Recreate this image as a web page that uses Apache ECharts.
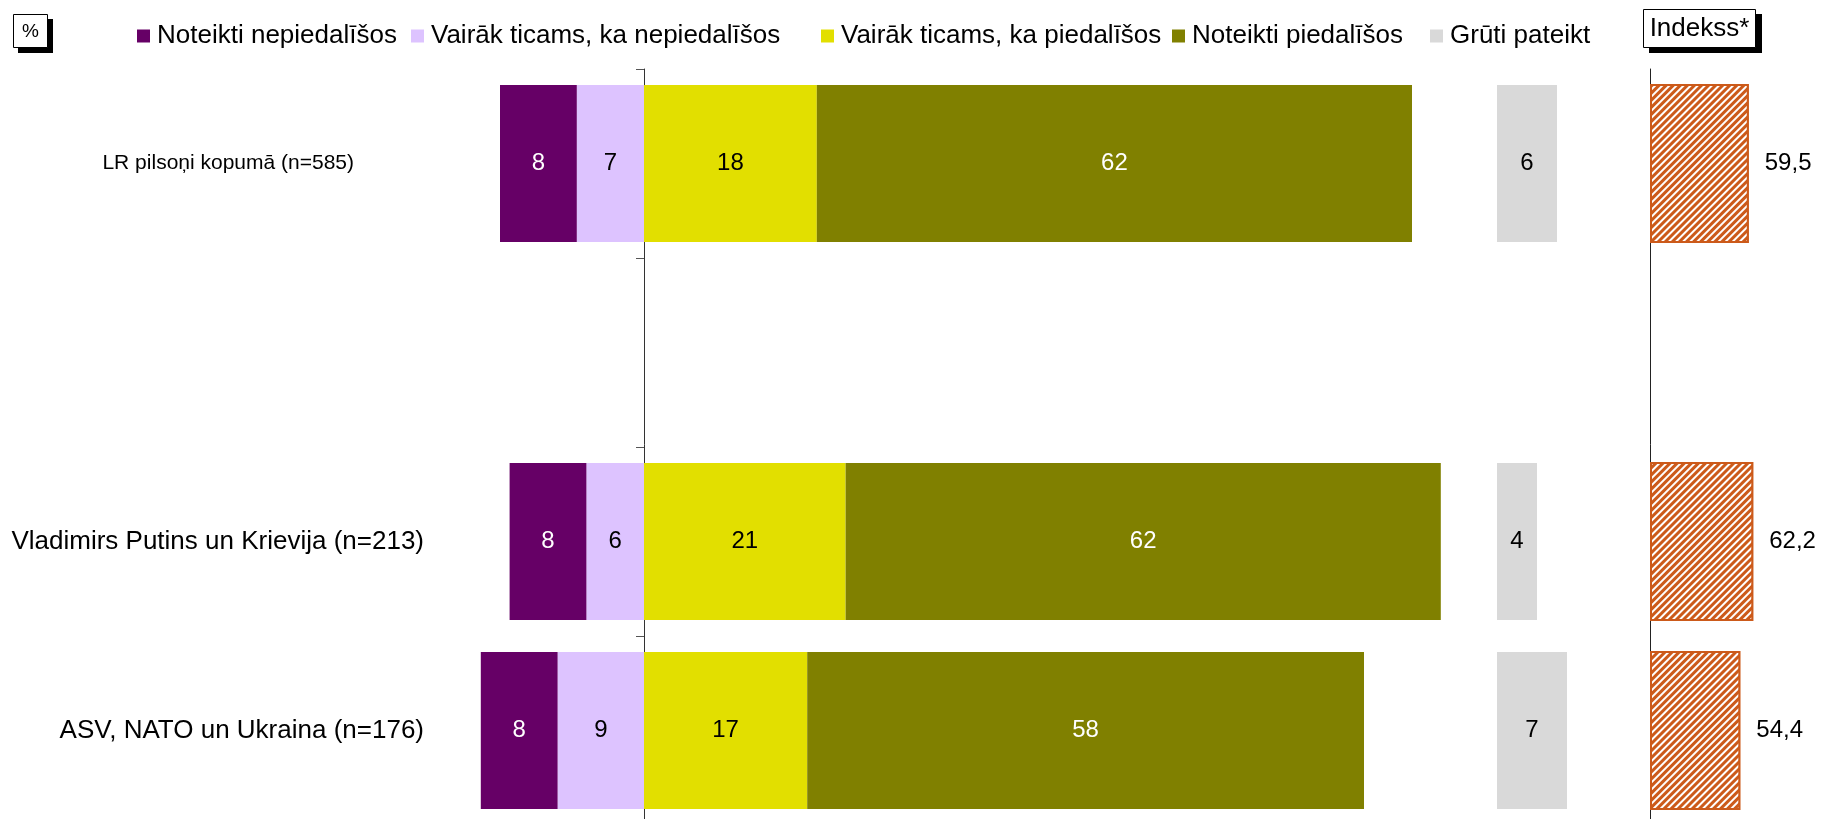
<!DOCTYPE html>
<html>
<head>
<meta charset="utf-8">
<script src="https://cdn.jsdelivr.net/npm/echarts@6/dist/echarts.min.js"></script>
<style>
html,body{margin:0;padding:0;background:#ffffff;}
#chart{width:1823px;height:819px;}
</style>
</head>
<body>
<div id="chart"></div>
<script>
// ---- data ----
const categories = ['LR pilsoņi kopumā (n=585)', '', 'Vladimirs Putins un Krievija (n=213)', 'ASV, NATO un Ukraina (n=176)'];
const seriesNames = ['Noteikti nepiedalīšos', 'Vairāk ticams, ka nepiedalīšos', 'Vairāk ticams, ka piedalīšos', 'Noteikti piedalīšos', 'Grūti pateikt'];
const noteiktiNe = [8, null, 8, 8];
const varakNe = [7, null, 6, 9];
const varakJa = [18, null, 21, 17];
const noteiktiJa = [62, null, 62, 58];
const grutiPateikt = [6, null, 4, 7];
const indekss = [59.5, null, 62.2, 54.4];

const FONT = 'Arial, "Liberation Sans", sans-serif';
const C = {
  purple: '#660066',
  lavender: '#DDC3FF',
  yellow: '#E2DF00',
  olive: '#808000',
  gray: '#D9D9D9',
  orange: '#CC5A1A'
};

const chart = echarts.init(document.getElementById('chart'));

const GT = 69, GH = 756, BW = 157;

function lbl(color) {
  return {
    show: true, position: 'inside', color: color, fontSize: 24, fontFamily: FONT,
    formatter: p => (p.value == null ? '' : Math.abs(p.value))
  };
}
const neg = arr => arr.map(v => (v == null ? null : -v));

// label styling per row (the first row label is smaller and further from the axis in the original)
const labelCats = categories.map((c, i) => (i === 0
  ? { value: c, textStyle: { fontSize: 21, padding: [0, 70, 0, 0] } }
  : { value: c, textStyle: { fontSize: 26 } }));

function legendItem(name, left) {
  return {
    data: [name], left: left, top: 23, orient: 'horizontal',
    itemWidth: 13, itemHeight: 13, itemGap: 0, icon: 'rect',
    selectedMode: false, padding: 0,
    textStyle: { fontSize: 26, fontFamily: FONT, color: '#000', lineHeight: 26, padding: [0, 0, 0, 2] }
  };
}

const gridCommon = { top: GT, height: GH, containLabel: false, outerBoundsMode: 'none' };

const option = {
  backgroundColor: '#ffffff',
  animation: false,
  legend: [
    legendItem(seriesNames[0], 137),
    legendItem(seriesNames[1], 411),
    legendItem(seriesNames[2], 821),
    legendItem(seriesNames[3], 1172),
    legendItem(seriesNames[4], 1430)
  ],
  grid: [
    Object.assign({ left: 452, width: 1152 }, gridCommon),
    Object.assign({ left: 1497, width: 100 }, gridCommon),
    Object.assign({ left: 1650, width: 166 }, gridCommon)
  ],
  xAxis: [
    { gridIndex: 0, type: 'value', min: -20, max: 100, show: false },
    { gridIndex: 1, type: 'value', min: 0, max: 10, show: false },
    { gridIndex: 2, type: 'value', min: 0, max: 100, show: false }
  ],
  yAxis: [
    {
      gridIndex: 0, type: 'category', data: labelCats, inverse: true, position: 'left',
      axisLine: { show: false, onZero: false },
      axisTick: { show: false },
      axisLabel: { show: true, margin: 28, fontSize: 21, fontFamily: FONT, color: '#000' },
      splitLine: { show: false }
    },
    {
      gridIndex: 0, type: 'category', data: categories, inverse: true, position: 'left',
      axisLine: { show: true, onZero: true, lineStyle: { color: '#333', width: 1 } },
      axisTick: { show: true, length: 8, lineStyle: { color: '#555' } },
      axisLabel: { show: false },
      splitLine: { show: false }
    },
    {
      gridIndex: 1, type: 'category', data: categories, inverse: true, show: false
    },
    {
      gridIndex: 2, type: 'category', data: categories, inverse: true,
      axisLine: { show: true, lineStyle: { color: '#222', width: 1 } },
      axisTick: { show: false }, axisLabel: { show: false }, splitLine: { show: false }
    }
  ],
  series: [
    { name: seriesNames[1], type: 'bar', stack: 'main', xAxisIndex: 0, yAxisIndex: 0, barWidth: BW,
      data: neg(varakNe), itemStyle: { color: C.lavender }, label: lbl('#000') },
    { name: seriesNames[0], type: 'bar', stack: 'main', xAxisIndex: 0, yAxisIndex: 0, barWidth: BW,
      data: neg(noteiktiNe), itemStyle: { color: C.purple }, label: lbl('#fff') },
    { name: seriesNames[2], type: 'bar', stack: 'main', xAxisIndex: 0, yAxisIndex: 0, barWidth: BW,
      data: varakJa, itemStyle: { color: C.yellow }, label: lbl('#000') },
    { name: seriesNames[3], type: 'bar', stack: 'main', xAxisIndex: 0, yAxisIndex: 0, barWidth: BW,
      data: noteiktiJa, itemStyle: { color: C.olive }, label: lbl('#fff') },
    { name: seriesNames[4], type: 'bar', xAxisIndex: 1, yAxisIndex: 2, barWidth: BW,
      data: grutiPateikt, itemStyle: { color: C.gray }, label: lbl('#000') },
    { name: 'Indekss*', type: 'bar', xAxisIndex: 2, yAxisIndex: 3, barWidth: 159,
      data: indekss,
      itemStyle: {
        color: C.orange, borderColor: C.orange, borderWidth: 2,
        decal: { symbol: 'rect', symbolSize: 1, rotation: -Math.PI / 4, dashArrayX: [[1, 0]], dashArrayY: [1.8, 2.2], color: '#ffffff' }
      },
      label: {
        show: true, position: 'right', distance: 16, color: '#000', fontSize: 24, fontFamily: FONT,
        formatter: p => (p.value == null ? '' : String(p.value.toFixed(1)).replace('.', ','))
      }
    }
  ],
  graphic: [
    { type: 'rect', shape: { x: 18, y: 19, width: 35, height: 34 }, style: { fill: '#000' } },
    { type: 'rect', shape: { x: 13.5, y: 14.5, width: 34, height: 33 },
      style: { fill: '#fff', stroke: '#000', lineWidth: 1 } },
    { type: 'text', x: 30.5, y: 31.5, style: { text: '%', fontSize: 19, fontFamily: FONT, fill: '#000', align: 'center', verticalAlign: 'middle' } },
    { type: 'rect', shape: { x: 1649, y: 14, width: 113, height: 39 }, style: { fill: '#000' } },
    { type: 'rect', shape: { x: 1643.5, y: 9.5, width: 112, height: 38 },
      style: { fill: '#fff', stroke: '#000', lineWidth: 1 } },
    { type: 'text', x: 1699.5, y: 29, style: { text: 'Indekss*', fontSize: 26, fontFamily: FONT, fill: '#000', align: 'center', verticalAlign: 'middle' } }
  ]
};

chart.setOption(option);
</script>
</body>
</html>
